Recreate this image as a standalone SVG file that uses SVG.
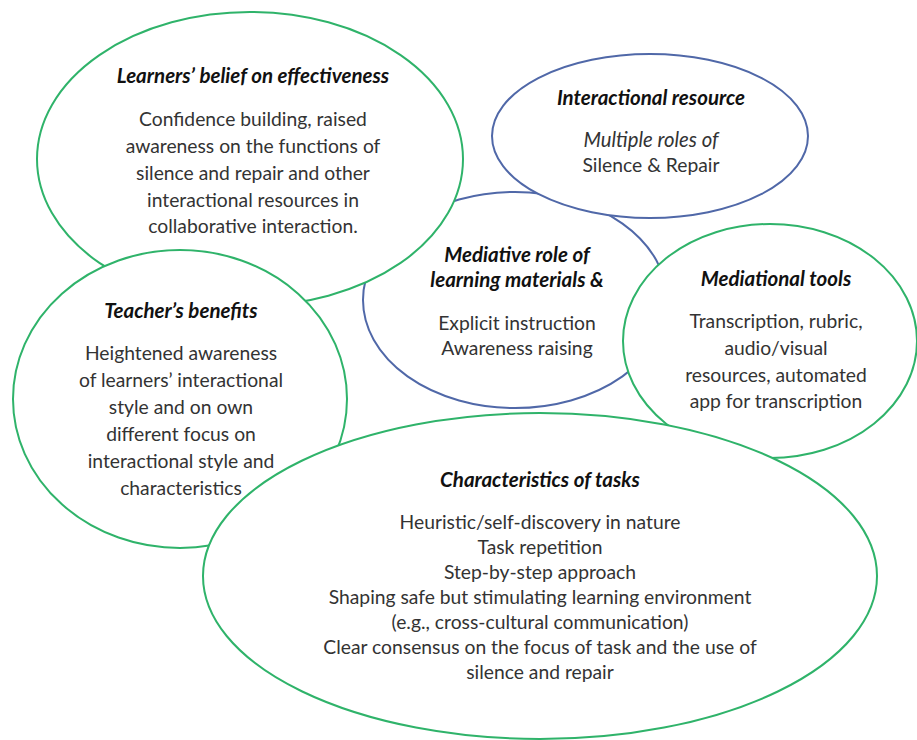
<svg xmlns="http://www.w3.org/2000/svg" width="917" height="740" viewBox="0 0 917 740">
<style>
.g{fill:#fff;stroke:#2fb36a;stroke-width:2}
.b{fill:#fff;stroke:#5068a8;stroke-width:2}
text{font-family:Lato,"Liberation Sans",sans-serif;font-size:19.3px;text-anchor:middle;fill:#333}
.t{font-weight:bold;font-style:italic;fill:#111;font-size:20.5px}
.i{font-style:italic;font-size:20.3px}
</style>
<rect width="917" height="740" fill="#fff"/>
<g id="connectors"></g>
<g id="mediative">
<ellipse class="b" cx="515" cy="300" rx="152" ry="108"/>
</g>
<g id="learners">
<ellipse class="g" cx="250" cy="159" rx="213" ry="147"/>
<text class="t" x="253" y="83">Learners’ belief on effectiveness</text>
<text x="253" y="126">Confidence building, raised</text>
<text x="253" y="153">awareness on the functions of</text>
<text x="253" y="180">silence and repair and other</text>
<text x="253" y="207">interactional resources in</text>
<text x="253" y="233">collaborative interaction.</text>
</g>
<g id="teacher">
<ellipse class="g" cx="180" cy="399" rx="167" ry="149"/>
<text class="t" x="181" y="318">Teacher’s benefits</text>
<text x="181" y="360">Heightened awareness</text>
<text x="181" y="387">of learners’ interactional</text>
<text x="181" y="414">style and on own</text>
<text x="181" y="441">different focus on</text>
<text x="181" y="468">interactional style and</text>
<text x="181" y="495">characteristics</text>
</g>
<g id="interactional">
<ellipse class="b" cx="650" cy="136" rx="158" ry="82"/>
<text class="t" x="651" y="105">Interactional resource</text>
<text class="i" x="651" y="147">Multiple roles of</text>
<text x="651" y="172">Silence &amp; Repair</text>
</g>
<g id="mediative-text">
<text class="t" x="517" y="262">Mediative role of</text>
<text class="t" x="517" y="287">learning materials &amp;</text>
<text x="517" y="330">Explicit instruction</text>
<text x="517" y="355">Awareness raising</text>
</g>
<g id="mediational">
<ellipse class="g" cx="770" cy="341" rx="147" ry="117"/>
<text class="t" x="776" y="286">Mediational tools</text>
<text x="776" y="328">Transcription, rubric,</text>
<text x="776" y="355">audio/visual</text>
<text x="776" y="382">resources, automated</text>
<text x="776" y="408">app for transcription</text>
</g>
<g id="characteristics">
<ellipse class="g" cx="540" cy="576" rx="337" ry="163"/>
<text class="t" x="540" y="487">Characteristics of tasks</text>
<text x="540" y="529">Heuristic/self-discovery in nature</text>
<text x="540" y="554">Task repetition</text>
<text x="540" y="579">Step-by-step approach</text>
<text x="540" y="604">Shaping safe but stimulating learning environment</text>
<text x="540" y="629">(e.g., cross-cultural communication)</text>
<text x="540" y="654">Clear consensus on the focus of task and the use of</text>
<text x="540" y="679">silence and repair</text>
</g>
</svg>
